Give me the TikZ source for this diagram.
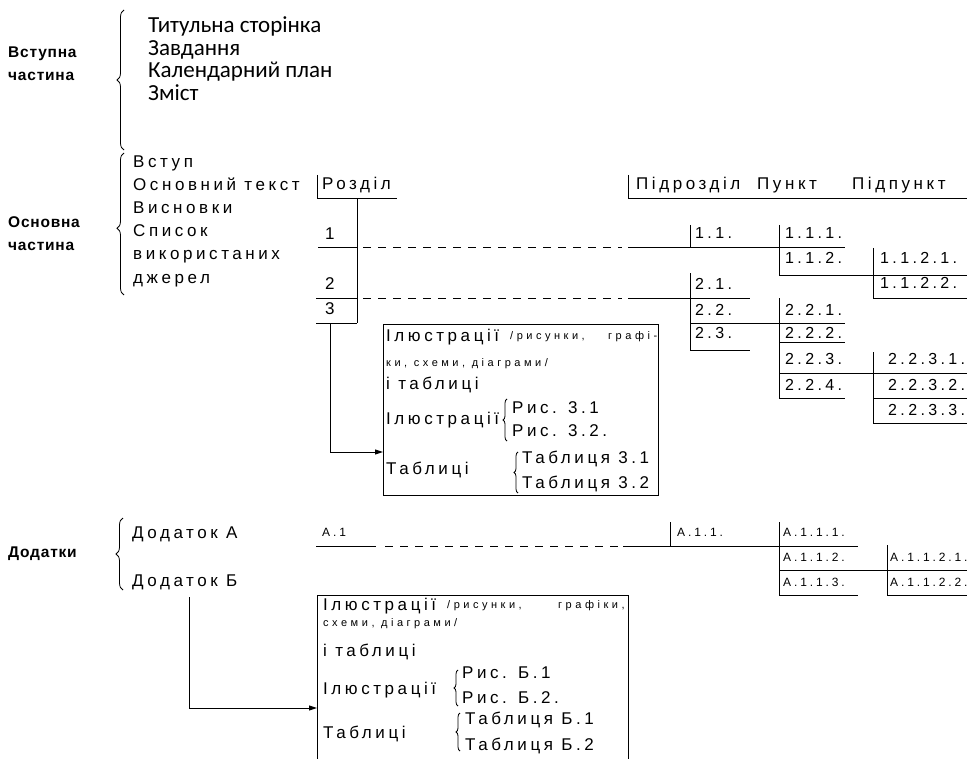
\documentclass[tikz,border=0pt]{standalone}
\usepackage{fontspec}
\setmainfont[LetterSpace=21]{Liberation Sans}
\newfontfamily\calibri{Carlito}
\newfontfamily\zhyrnyi[LetterSpace=5]{Liberation Sans}
\newfontfamily\malyifont[LetterSpace=24]{Liberation Sans}
\newfontfamily\dribnyi[LetterSpace=32]{Liberation Sans}
\usetikzlibrary{arrows.meta, decorations.pathreplacing}

\tikzset{
  napys/.style={inner sep=0pt, anchor=west, font=\fontsize{17}{20}\selectfont, text height=12.2pt, text depth=0pt},
  nomer/.style={napys, font=\fontsize{16}{19}\selectfont, text height=11.5pt},
  holovnyi/.style={napys, font=\zhyrnyi\bfseries\fontsize{15.5}{18}\selectfont, text height=11.1pt},
  kalibri/.style={napys, font=\calibri\fontsize{23}{27}\selectfont, text height=14.8pt},
  malyi/.style={napys, font=\malyifont\fontsize{12}{14}\selectfont, text height=8.6pt},
  dribnyi/.style={napys, font=\dribnyi\fontsize{11}{13}\selectfont, text height=7.9pt},
  liniia/.style={line width=1pt},
  shtrykh/.style={line width=1pt, dash pattern=on 8pt off 7pt},
  duzhka/.style={decorate, decoration={brace, amplitude=#1}, line width=0.8pt},
  duzhka/.default=7pt,
  ramka/.style={draw, line width=1pt, inner sep=0pt, anchor=north west},
  strilka/.style={line width=1pt, -{Triangle[length=8pt, width=5pt]}}
}

\begin{document}
\begin{tikzpicture}[x=1pt, y=-1pt]

    \useasboundingbox (0,0) rectangle (979,759);
    \clip (0,0) rectangle (979,759);

    % Вступна частина
    \node[holovnyi] (vstup1) at (8,52) {Вступна};
    \node[holovnyi] (vstup2) at (8,75) {частина};
    \draw[duzhka] (124,150) -- (124,10);
    \foreach \t [count=\i] in {Титульна сторінка, Завдання, Календарний план, Зміст}
        \node[kalibri] (vs\i) at (148,{2.3+22.7*\i}) {\t};

    % Основна частина
    \node[holovnyi] (osnova1) at (8,222) {Основна};
    \node[holovnyi] (osnova2) at (8,245) {частина};
    \draw[duzhka, decoration={aspect=0.47}] (124,295) -- (124,153);
    \foreach \t [count=\i] in {Вступ, Основний текст, Висновки, Список, використаних, джерел}
        \node[napys] (osn\i) at (133,{137.8+23.2*\i}) {\t};

    % Розділи
    \node[napys] (rozdil) at (322,183) {Розділ};
    \draw[liniia] (317,175) -- (317,199) -- (397,199);
    \draw[liniia] (357,199) -- (357,323);
    \node[napys] (r1) at (325,233) {1};
    \node[napys] (r2) at (325,283) {2};
    \node[napys] (r3) at (325,308) {3};
    \draw[liniia] (318,248) -- (357,248);
    \draw[liniia] (316,298) -- (357,298);
    \draw[liniia] (316,323) -- (357,323);
    \draw[shtrykh] (363,248) -- (622,248);
    \draw[shtrykh] (363,298) -- (622,298);

    % Заголовки праворуч
    \node[napys] (pidrozdil) at (636,183) {Підрозділ};
    \node[napys] (punkt) at (757,183) {Пункт};
    \node[napys] (pidpunkt) at (852,183) {Підпункт};
    \draw[liniia] (628,175) -- (628,199) -- (967,199);

    % Гілка 1
    \draw[liniia] (628,248) -- (845,248);
    \draw[liniia] (690,225) -- (690,248);
    \draw[liniia] (779,225) -- (779,275);
    \draw[liniia] (779,275) -- (967,275);
    \draw[liniia] (873,248) -- (873,298) -- (967,298);
    \node[nomer] (p11) at (695,233) {1.1.};
    \node[nomer] (p111) at (785,233) {1.1.1.};
    \node[nomer] (p112) at (785,258) {1.1.2.};
    \node[nomer] (p1121) at (880,258) {1.1.2.1.};
    \node[nomer] (p1122) at (880,283) {1.1.2.2.};

    % Гілка 2
    \draw[liniia] (628,298) -- (750,298);
    \draw[liniia] (690,273) -- (690,350) -- (750,350);
    \draw[liniia] (690,323) -- (845,323);
    \draw[liniia] (779,298) -- (779,398) -- (845,398);
    \draw[liniia] (779,342) -- (845,342);
    \draw[liniia] (779,373) -- (967,373);
    \draw[liniia] (873,352) -- (873,423) -- (967,423);
    \draw[liniia] (873,398) -- (967,398);
    \node[nomer] (p21) at (695,284) {2.1.};
    \node[nomer] (p22) at (695,310) {2.2.};
    \node[nomer] (p23) at (695,333) {2.3.};
    \node[nomer] (p221) at (785,310) {2.2.1.};
    \node[nomer] (p222) at (785,333) {2.2.2.};
    \node[nomer] (p223) at (785,359) {2.2.3.};
    \node[nomer] (p224) at (785,385) {2.2.4.};
    \node[nomer] (p2231) at (888,359) {2.2.3.1.};
    \node[nomer] (p2232) at (888,385) {2.2.3.2.};
    \node[nomer] (p2233) at (888,410) {2.2.3.3.};

    % Ілюстрації до розділу 3
    \node[ramka, minimum width=275pt, minimum height=171pt] (ramka3) at (383,324) {};
    \node[napys] (il3) at (386,335) {Ілюстрації};
    \node[dribnyi] (ris3) at (510,336) {/рисунки,};
    \node[dribnyi] (graf3) at (608,336) {графі-};
    \node[dribnyi] (skh3) at (386,363) {ки, схеми, діаграми/};
    \node[napys] (tab3) at (386,383) {і таблиці};
    \node[napys] (il3b) at (386,418) {Ілюстрації};
    \draw[duzhka=4pt] (507,441) -- (507,399);
    \node[napys] (ris31) at (512,407) {Рис. 3.1};
    \node[napys] (ris32) at (512,430) {Рис. 3.2.};
    \node[napys] (tab3b) at (386,468) {Таблиці};
    \draw[duzhka=4pt] (518,493) -- (518,452);
    \node[napys] (tab31) at (522,457) {Таблиця 3.1};
    \node[napys] (tab32) at (522,482) {Таблиця 3.2};
    \coordinate (vykhid3) at (330,323);
    \coordinate (vkhid3) at (383,452);
    \draw[strilka] (vykhid3) |- (vkhid3);

    % Додатки
    \node[holovnyi] (dodatky) at (8,552) {Додатки};
    \draw[duzhka] (123,590) -- (123,518);
    \node[napys] (dodA) at (132,532) {Додаток А};
    \node[napys] (dodB) at (132,580) {Додаток Б};

    % Гілка А
    \node[malyi] (a1) at (322,532) {А.1};
    \draw[liniia] (316,546) -- (376,546);
    \draw[shtrykh] (385,546) -- (618,546);
    \draw[liniia] (623,546) -- (858,546);
    \draw[liniia] (670,522) -- (670,546);
    \draw[liniia] (779,522) -- (779,595) -- (858,595);
    \draw[liniia] (779,570) -- (967,570);
    \draw[liniia] (887,545) -- (887,595) -- (967,595);
    \node[malyi] (a11) at (677,532) {А.1.1.};
    \node[malyi] (a111) at (783,532) {А.1.1.1.};
    \node[malyi] (a112) at (783,557) {А.1.1.2.};
    \node[malyi] (a113) at (783,582) {А.1.1.3.};
    \node[malyi] (a1121) at (890,557) {А.1.1.2.1.};
    \node[malyi] (a1122) at (890,582) {А.1.1.2.2.};

    % Ілюстрації до додатка Б
    \node[ramka, minimum width=311pt, minimum height=200pt] (ramkaB) at (317,595) {};
    \node[napys] (ilB) at (323,604) {Ілюстрації};
    \node[dribnyi] (risB) at (447,605) {/рисунки,};
    \node[dribnyi] (grafB) at (558,605) {графіки,};
    \node[dribnyi] (skhB) at (323,623) {схеми, діаграми/};
    \node[napys] (tabB) at (323,650) {і таблиці};
    \node[napys] (ilBb) at (323,688) {Ілюстрації};
    \draw[duzhka=4pt] (458,706) -- (458,670);
    \node[napys] (risB1) at (462,672) {Рис. Б.1};
    \node[napys] (risB2) at (462,697) {Рис. Б.2.};
    \node[napys] (tabBb) at (323,732) {Таблиці};
    \draw[duzhka=4pt] (460,751) -- (460,713);
    \node[napys] (tabB1) at (465,718) {Таблиця Б.1};
    \node[napys] (tabB2) at (465,744) {Таблиця Б.2};
    \coordinate (vykhidB) at (189,597);
    \coordinate (vkhidB) at (317,708);
    \draw[strilka] (vykhidB) |- (vkhidB);

\end{tikzpicture}
\end{document}
